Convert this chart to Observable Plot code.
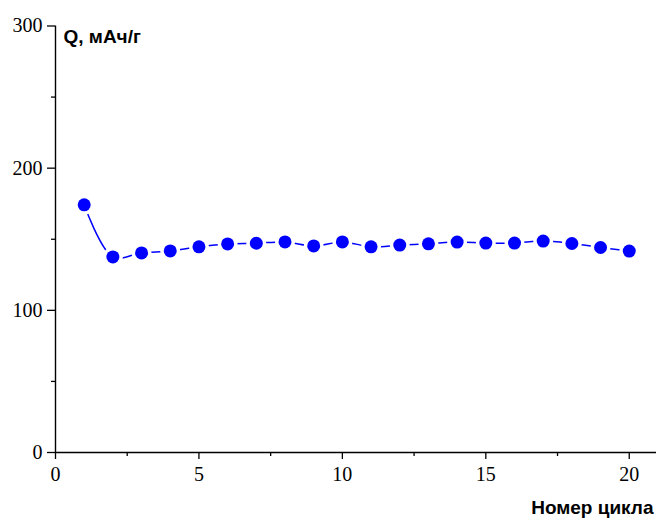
<!DOCTYPE html>
<html>
<head>
<meta charset="utf-8">
<script src="https://cdn.jsdelivr.net/npm/d3@7"></script>
<script src="https://cdn.jsdelivr.net/npm/@observablehq/plot@0.6"></script>
<style>
  html, body { margin: 0; padding: 0; background: #fff; }
  #chart svg { display: block; }
  #chart svg g[aria-label$="tick label"],
  #chart svg g[aria-label$="tick label"] text {
    font-family: "Liberation Serif", "Times New Roman", serif !important;
    font-size: 20px !important;
  }
</style>
</head>
<body>
<div id="chart"></div>
<script>
const cycles = [1, 2, 3, 4, 5, 6, 7, 8, 9, 10, 11, 12, 13, 14, 15, 16, 17, 18, 19, 20];
const capacity = [174.2, 137.6, 140.4, 141.8, 144.7, 146.7, 147.2, 148.1, 145.3, 148.1, 144.7, 145.9, 146.8, 148.0, 147.3, 147.3, 148.7, 147.0, 144.2, 141.7];
const xMajorTicks = [0, 5, 10, 15, 20];
const xMinorTicks = [2.5, 7.5, 12.5, 17.5];
const yMajorTicks = [0, 100, 200, 300];
const yMinorTicks = [50, 150, 250];
const yLabel = "Q, мАч/г";
const xLabel = "Номер цикла";

const data = cycles.map((c, i) => ({cycle: c, q: capacity[i]}));
const sans = "Liberation Sans, Arial, sans-serif";

const chart = Plot.plot({
  width: 656,
  height: 519,
  marginLeft: 55,
  marginRight: 0,
  marginTop: 25.5,
  marginBottom: 67,
  style: {background: "#fff", color: "#000", overflow: "visible"},
  x: {domain: [0, 20.95]},
  y: {domain: [0, 300]},
  marks: [
    Plot.line(data, {x: "cycle", y: "q", stroke: "#0000ff", strokeWidth: 1.5, curve: "catmull-rom"}),
    Plot.dot(data, {x: "cycle", y: "q", r: 10, fill: "#fff", stroke: "none"}),
    Plot.dot(data, {x: "cycle", y: "q", r: 6.5, fill: "#0000ff", stroke: "none"}),
    Plot.ruleX([0], {stroke: "#000", strokeWidth: 1.4}),
    Plot.ruleY([0], {stroke: "#000", strokeWidth: 1.4}),
    Plot.axisX(xMajorTicks, {tickSize: 7, tickPadding: 7, strokeWidth: 1.3, fontSize: 20, label: null, tickFormat: d => String(d)}),
    Plot.axisX(xMinorTicks, {tickSize: 4, strokeWidth: 1.3, fill: "none", label: null}),
    Plot.axisY(yMajorTicks, {tickSize: 8, tickPadding: 5, strokeWidth: 1.3, fontSize: 20, label: null, tickFormat: d => String(d)}),
    Plot.axisY(yMinorTicks, {tickSize: 4, strokeWidth: 1.3, fill: "none", label: null}),
    Plot.text([yLabel], {frameAnchor: "top-left", dx: 8, dy: 11, text: d => d, textAnchor: "start", lineAnchor: "middle", fontSize: 19, fontWeight: "bold", fontFamily: sans, fill: "#000"}),
    Plot.text([xLabel], {frameAnchor: "bottom-right", dx: -3, dy: 55, text: d => d, textAnchor: "end", lineAnchor: "middle", fontSize: 19, fontWeight: "bold", fontFamily: sans, fill: "#000"})
  ]
});
document.getElementById("chart").appendChild(chart);
</script>
</body>
</html>
